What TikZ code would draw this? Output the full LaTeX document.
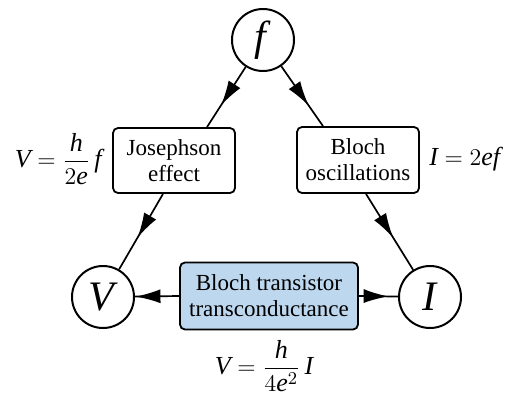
\documentclass[tikz,border=0pt]{standalone}
\usepackage{fontspec}
\setmainfont{Liberation Serif}
\usetikzlibrary{arrows.meta,decorations.markings,calc}
\definecolor{boxblue}{HTML}{BDD7EE}
% italic symbols in the serif text face
\newcommand{\sym}[1]{\mbox{\itshape #1}}
\tikzset{
  qty/.style={circle,draw,line width=1pt,minimum size=31pt,inner sep=0pt,font=\fontsize{21}{23}\selectfont},
  effectbox/.style={draw,line width=0.9pt,rounded corners=2.5pt,align=center,inner sep=0pt,
    font=\fontsize{11.5}{13}\selectfont},
  eqn/.style={font=\fontsize{13}{15}\selectfont,inner sep=0pt},
  link/.style={line width=0.85pt},
  tipat/.style={postaction={decorate},decoration={markings,
    mark=at position #1 with {\arrow{Latex[length=12.5pt,width=7pt]}}}}
}
\begin{document}
\begin{tikzpicture}[x=0.5pt,y=-0.5pt]
  \useasboundingbox (0,0) rectangle (517,396);

  % the three quantities
  \node[qty] (f) at (263,40) {\itshape f\/};
  \node[qty] (V) at (103,297) {\itshape V\/};
  \node[qty] (I) at (430,297) {\itshape I\/};

  % the three physical effects linking them
  \node[effectbox,minimum width=61pt,minimum height=32.5pt] (jos) at (174,160.5)
    {Josephson\\effect};
  \node[effectbox,minimum width=61pt,minimum height=33pt] (bloch) at (358,160)
    {Bloch\\oscillations};
  \node[effectbox,fill=boxblue,minimum width=89pt,minimum height=33.5pt] (bt) at (269,296)
    {Bloch transistor\\transconductance};

  % attachment points on the box edges
  \coordinate (josin)    at ($(jos.north)+(33,0)$);
  \coordinate (josout)   at ($(jos.south)+(-11,0)$);
  \coordinate (blochin)  at ($(bloch.north)+(-35,0)$);
  \coordinate (blochout) at ($(bloch.south)+(8,0)$);

  % connectors
  \draw[link,tipat=0.64] (f) -- (josin);
  \draw[link,tipat=0.58] (josout) -- (V);
  \draw[link,tipat=0.66] (f) -- (blochin);
  \draw[link,tipat=0.58] (blochout) -- (I);
  \draw[link,tipat=0.99] (bt.west) -- (V);
  \draw[link,tipat=0.76] (bt.east) -- (I);

  % relations
  \node[eqn,anchor=east] (eqJ) at (102,159)
    {$\displaystyle\sym{V}=\frac{\sym{h}}{2\sym{e}}\,\sym{f}$};
  \node[eqn,anchor=west] (eqB) at (429,159) {$\sym{I}=2\sym{ef}$};
  \node[eqn] (eqT) at (264,366)
    {$\displaystyle\sym{V}=\frac{\sym{h}}{4\sym{e}^{2}}\,\sym{I}$};
\end{tikzpicture}
\end{document}
